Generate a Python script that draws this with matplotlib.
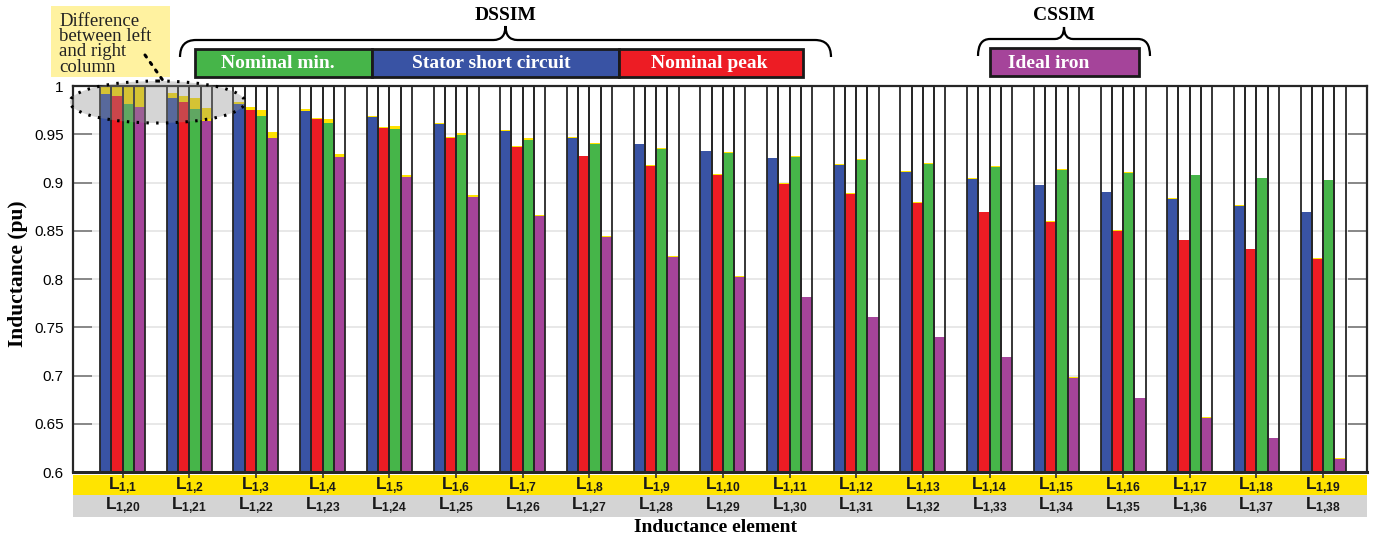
import matplotlib
matplotlib.use("Agg")
import matplotlib.pyplot as plt
import numpy as np
from matplotlib.patches import Rectangle, Ellipse, PathPatch
from matplotlib.path import Path
from matplotlib.transforms import blended_transform_factory

plt.rcParams["mathtext.fontset"] = "custom"
plt.rcParams["mathtext.rm"] = "Liberation Sans"
plt.rcParams["mathtext.bf"] = "Liberation Sans:bold"

SERIF = "Liberation Serif"
SANS = "Liberation Sans"

BLUE = "#3953a4"
RED = "#ed1c24"
GREEN = "#46b549"
MAGENTA = "#a5449a"
DIFF_YELLOW = "#ffe200"
BAND_YELLOW = "#ffe400"
BAND_GRAY = "#d4d4d4"
EDGE = "#262626"

Y0 = 0.6

groups = np.arange(1, 20)
left_labels = ["1,1", "1,2", "1,3", "1,4", "1,5", "1,6", "1,7", "1,8", "1,9", "1,10",
               "1,11", "1,12", "1,13", "1,14", "1,15", "1,16", "1,17", "1,18", "1,19"]
right_labels = ["1,20", "1,21", "1,22", "1,23", "1,24", "1,25", "1,26", "1,27", "1,28", "1,29",
                "1,30", "1,31", "1,32", "1,33", "1,34", "1,35", "1,36", "1,37", "1,38"]
ytick_vals = [0.6, 0.65, 0.7, 0.75, 0.8, 0.85, 0.9, 0.95, 1.0]
ytick_labels = ["0.6", "0.65", "0.7", "0.75", "0.8", "0.85", "0.9", "0.95", "1"]

# left column (L_1,1..L_1,19) and right column (L_1,20..L_1,38), per model
stator_left = [1.0, 0.9924, 0.9837, 0.9765, 0.9689, 0.9617, 0.9544, 0.9475, 0.9400, 0.9327,
               0.9257, 0.9192, 0.9119, 0.9047, 0.8978, 0.8906, 0.8840, 0.8767, 0.8695]
stator_right = [0.9917, 0.9876, 0.9813, 0.9744, 0.9676, 0.9606, 0.9534, 0.9464, 0.9396, 0.9323,
                0.9254, 0.9181, 0.9109, 0.9040, 0.8974, 0.8902, 0.8833, 0.8760, 0.8691]
peak_left = [1.0, 0.9893, 0.9779, 0.9672, 0.9575, 0.9471, 0.9381, 0.9279, 0.9181, 0.9088,
             0.8991, 0.8894, 0.8796, 0.8698, 0.8604, 0.8503, 0.8409, 0.8313, 0.8217]
peak_right = [0.9896, 0.9831, 0.9748, 0.9655, 0.9562, 0.9464, 0.9371, 0.9275, 0.9174, 0.9081,
              0.8984, 0.8884, 0.8791, 0.8691, 0.8594, 0.8497, 0.8404, 0.8308, 0.8207]
min_left = [1.0, 0.9873, 0.9754, 0.9658, 0.9585, 0.9513, 0.9461, 0.9410, 0.9358, 0.9316,
            0.9278, 0.9240, 0.9202, 0.9171, 0.9136, 0.9109, 0.9081, 0.9052, 0.9027]
min_right = [0.9817, 0.9762, 0.9689, 0.9613, 0.9551, 0.9492, 0.9444, 0.9396, 0.9347, 0.9309,
             0.9268, 0.9233, 0.9192, 0.9161, 0.9130, 0.9102, 0.9074, 0.9047, 0.9023]
iron_left = [1.0, 0.9772, 0.9523, 0.9295, 0.9078, 0.8867, 0.8660, 0.8446, 0.8238, 0.8028,
             0.7817, 0.7610, 0.7400, 0.7192, 0.6984, 0.6772, 0.6565, 0.6356, 0.6145]
iron_right = [0.9780, 0.9640, 0.9461, 0.9264, 0.9060, 0.8853, 0.8653, 0.8439, 0.8232, 0.8024,
              0.7813, 0.7606, 0.7396, 0.7188, 0.6977, 0.6767, 0.6560, 0.6349, 0.6135]

series = [
    (stator_left, stator_right, BLUE),
    (peak_left, peak_right, RED),
    (min_left, min_right, GREEN),
    (iron_left, iron_right, MAGENTA),
]


def brace(ax, x0, x1, y_tip, y_line, y_peak, r_end, r_mid):
    xm = (x0 + x1) / 2.0
    verts = [(x0, y_tip), (x0, y_line), (x0 + r_end, y_line),
             (xm - r_mid, y_line), (xm, y_line), (xm, y_peak),
             (xm, y_line), (xm + r_mid, y_line),
             (x1 - r_end, y_line), (x1, y_line), (x1, y_tip)]
    codes = [Path.MOVETO, Path.CURVE3, Path.CURVE3, Path.LINETO, Path.CURVE3, Path.CURVE3,
             Path.CURVE3, Path.CURVE3, Path.LINETO, Path.CURVE3, Path.CURVE3]
    ax.add_patch(PathPatch(Path(verts, codes), facecolor="none", edgecolor="black", lw=1.6))


def label_box(ax, x0, x1, y0, y1, color, text, tx=None):
    ax.add_patch(Rectangle((x0, y0), x1 - x0, y1 - y0, facecolor=color,
                           edgecolor="#1a1a1a", lw=2.0))
    if tx is None:
        tx = (x0 + x1) / 2.0
    ax.text(tx, (y0 + y1) / 2.0 + 1, text, ha="center", va="center", color="white",
            fontsize=14, fontweight="bold", family=SERIF)


def sub_label(idx):
    return r"$\mathbf{L_{%s}}$" % idx.replace(",", "{,}")


fig = plt.figure(figsize=(13.84, 5.41), dpi=100)
ax = fig.add_axes([0.053, 0.1275, 0.9347, 0.7135])

width = 0.1687
offsets = (np.arange(4) - 1.5) * width
for off, (top, base, color) in zip(offsets, series):
    x = groups + off
    top = np.asarray(top)
    base = np.asarray(base)
    ax.bar(x, base - Y0, bottom=Y0, width=width, color=color, linewidth=0, zorder=2)
    ax.bar(x, top - base, bottom=base, width=width, color=DIFF_YELLOW, linewidth=0, zorder=2)
    ax.bar(x, 1.0 - Y0, bottom=Y0, width=width, facecolor="none", edgecolor=EDGE,
           linewidth=1.3, zorder=3)

for yv in ytick_vals[1:-1]:
    ax.axhline(yv, color="#e2e2e2", lw=1.1, zorder=0.5)

ax.set_xlim(0.262, 19.658)
ax.set_ylim(Y0, 1.0)
ax.set_yticks(ytick_vals)
ax.set_yticklabels(ytick_labels, fontsize=11, family=SANS)
ax.set_xticks(groups)
ax.set_xticklabels([])
ax.tick_params(axis="y", direction="in", length=14, width=1.3, color="#808080",
               right=True, pad=7)
ax.tick_params(axis="x", direction="inout", length=8, width=1.2, color="#333333")
for side in ["left", "right", "top"]:
    ax.spines[side].set_color(EDGE)
    ax.spines[side].set_linewidth(1.6)
ax.spines["bottom"].set_color(EDGE)
ax.spines["bottom"].set_linewidth(2.2)

# element bands below the axis
ax.add_patch(Rectangle((0, -0.060), 1.0, 0.052, transform=ax.transAxes,
                       facecolor=BAND_YELLOW, edgecolor="none", clip_on=False, zorder=0.2))
ax.add_patch(Rectangle((0, -0.117), 1.0, 0.057, transform=ax.transAxes,
                       facecolor=BAND_GRAY, edgecolor="none", clip_on=False, zorder=0.2))
blend = blended_transform_factory(ax.transData, ax.transAxes)
for g, lt, rt in zip(groups, left_labels, right_labels):
    ax.text(g, -0.035, sub_label(lt), transform=blend, ha="center", va="center",
            fontsize=12.5, color="#1a1a1a", clip_on=False)
    ax.text(g, -0.087, sub_label(rt), transform=blend, ha="center", va="center",
            fontsize=12.5, color="#1a1a1a", clip_on=False)

# overlay in pixel units for the headings and the note
ov = fig.add_axes([0, 0, 1, 1])
ov.set_xlim(0, 1384)
ov.set_ylim(541, 0)
ov.axis("off")

ov.text(716, 528, "Inductance element", ha="center", va="center", fontsize=14,
        fontweight="bold", family=SERIF)
ov.text(18, 274, "Inductance (pu)", ha="center", va="center", rotation=90, fontsize=15.5,
        fontweight="bold", family=SERIF)

brace(ov, 180, 831, 57, 40, 26, 16, 12)
brace(ov, 978, 1150, 56, 39, 27, 12, 9)
ov.text(506, 15, "DSSIM", ha="center", va="center", fontsize=14, fontweight="bold", family=SERIF)
ov.text(1064, 15, "CSSIM", ha="center", va="center", fontsize=14, fontweight="bold", family=SERIF)

label_box(ov, 195, 372, 49, 77, GREEN, "Nominal min.", tx=278)
label_box(ov, 372, 619, 49, 77, BLUE, "Stator short circuit", tx=491)
label_box(ov, 619, 803, 49, 77, RED, "Nominal peak", tx=709)
label_box(ov, 990, 1139, 48, 76, MAGENTA, "Ideal iron", tx=1049)

ov.add_patch(Rectangle((51, 6), 119, 71, facecolor="#fff2a0", edgecolor="none"))
ov.text(59, 13, "Difference\nbetween left\nand right\ncolumn", ha="left", va="top",
        fontsize=13.5, family=SERIF, color="#222222", linespacing=0.86)
ov.plot([145, 164], [55, 82], color="black", lw=2.2, linestyle=(0, (0.8, 2.2)),
        dash_capstyle="round")
ov.add_patch(Ellipse((157.5, 102), 175, 42, facecolor="#8f8f8f", alpha=0.37, edgecolor="none"))
ov.add_patch(Ellipse((157.5, 102), 175, 42, facecolor="none", edgecolor="black", lw=2.2,
                     linestyle=(0, (0.8, 2.4))))

fig.savefig("out.png", dpi=100)
